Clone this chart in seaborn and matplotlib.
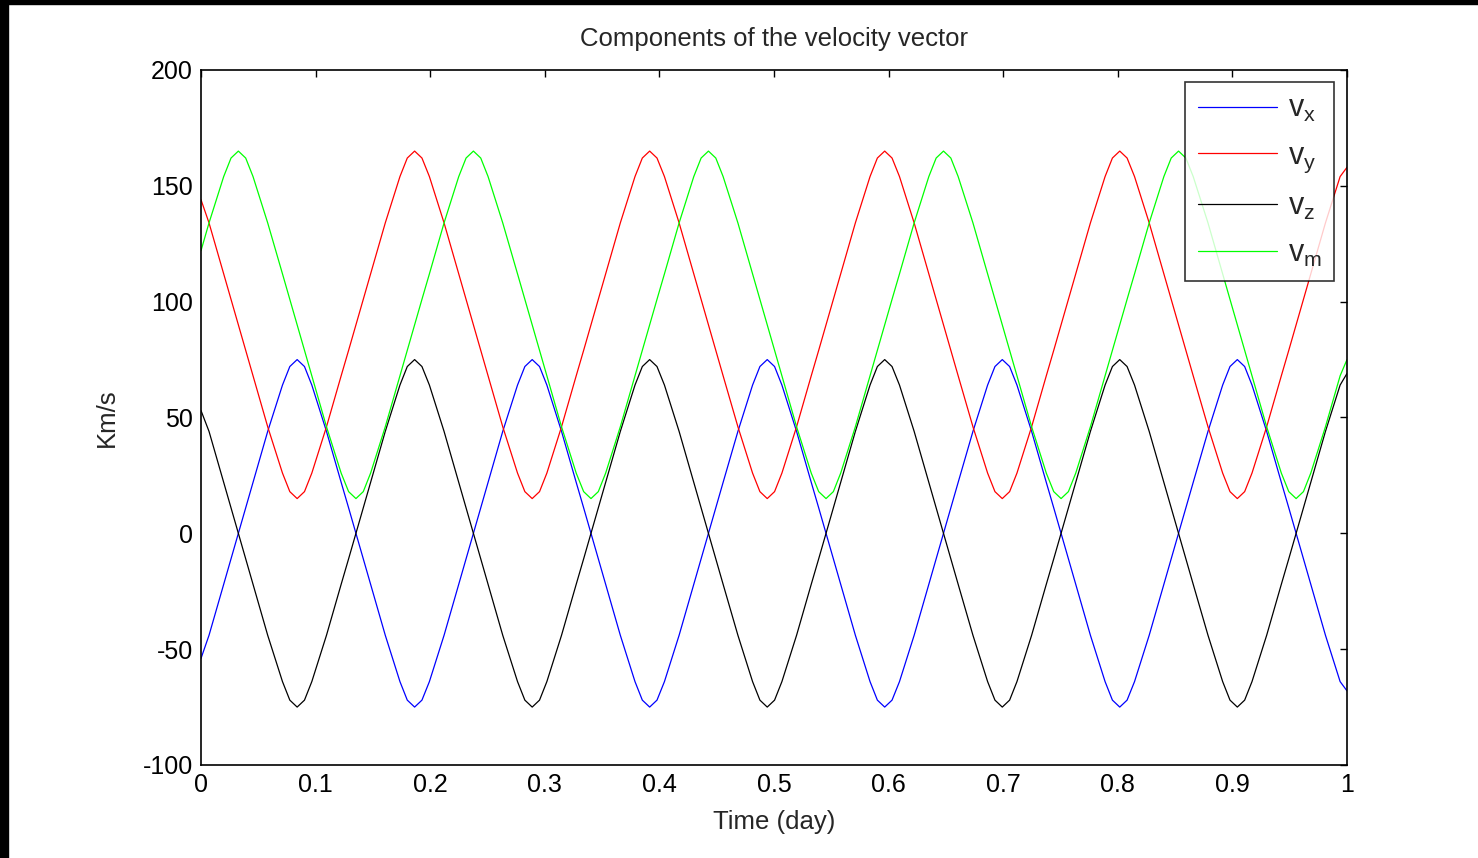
import matplotlib
matplotlib.use("Agg")
import matplotlib.pyplot as plt
import seaborn as sns
from matplotlib.patches import Rectangle

# time samples (day); extra samples near each turning point
t_day = [0.0, 0.0070, 0.0198,
         0.0262, 0.0326, 0.0390, 0.0454, 0.0582, 0.0711, 0.0775, 0.0839,
         0.0903, 0.0967, 0.1095, 0.1223, 0.1288, 0.1352, 0.1416, 0.1480,
         0.1608, 0.1736, 0.1800, 0.1864, 0.1928, 0.1993, 0.2121, 0.2249,
         0.2313, 0.2377, 0.2441, 0.2505, 0.2633, 0.2762, 0.2826, 0.2890,
         0.2954, 0.3018, 0.3146, 0.3274, 0.3339, 0.3403, 0.3467, 0.3531,
         0.3659, 0.3787, 0.3851, 0.3915, 0.3979, 0.4044, 0.4172, 0.4300,
         0.4364, 0.4428, 0.4492, 0.4556, 0.4685, 0.4813, 0.4877, 0.4941,
         0.5005, 0.5069, 0.5197, 0.5325, 0.5390, 0.5454, 0.5518, 0.5582,
         0.5710, 0.5838, 0.5902, 0.5966, 0.6030, 0.6095, 0.6223, 0.6351,
         0.6415, 0.6479, 0.6543, 0.6607, 0.6736, 0.6864, 0.6928, 0.6992,
         0.7056, 0.7120, 0.7248, 0.7376, 0.7441, 0.7505, 0.7569, 0.7633,
         0.7761, 0.7889, 0.7953, 0.8017, 0.8081, 0.8146, 0.8274, 0.8402,
         0.8466, 0.8530, 0.8594, 0.8658, 0.8787, 0.8915, 0.8979, 0.9043,
         0.9107, 0.9171, 0.9299, 0.9427, 0.9492, 0.9556, 0.9620, 0.9684,
         0.9812, 0.9940, 1.0]

# velocity components (km/s)
v_x = [-54, -44, -22,
       -11, 0, 11, 22, 44, 64, 72, 75, 72, 64, 44, 22,
       11, 0, -11, -22, -44, -64, -72, -75, -72, -64, -44, -22,
       -11, 0, 11, 22, 44, 64, 72, 75, 72, 64, 44, 22,
       11, 0, -11, -22, -44, -64, -72, -75, -72, -64, -44, -22,
       -11, 0, 11, 22, 44, 64, 72, 75, 72, 64, 44, 22,
       11, 0, -11, -22, -44, -64, -72, -75, -72, -64, -44, -22,
       -11, 0, 11, 22, 44, 64, 72, 75, 72, 64, 44, 22,
       11, 0, -11, -22, -44, -64, -72, -75, -72, -64, -44, -22,
       -11, 0, 11, 22, 44, 64, 72, 75, 72, 64, 44, 22,
       11, 0, -11, -22, -44, -64,
       -68]
v_y = [144, 134, 112,
       101, 90, 79, 68, 46, 26, 18, 15, 18, 26, 46, 68,
       79, 90, 101, 112, 134, 154, 162, 165, 162, 154, 134, 112,
       101, 90, 79, 68, 46, 26, 18, 15, 18, 26, 46, 68,
       79, 90, 101, 112, 134, 154, 162, 165, 162, 154, 134, 112,
       101, 90, 79, 68, 46, 26, 18, 15, 18, 26, 46, 68,
       79, 90, 101, 112, 134, 154, 162, 165, 162, 154, 134, 112,
       101, 90, 79, 68, 46, 26, 18, 15, 18, 26, 46, 68,
       79, 90, 101, 112, 134, 154, 162, 165, 162, 154, 134, 112,
       101, 90, 79, 68, 46, 26, 18, 15, 18, 26, 46, 68,
       79, 90, 101, 112, 134, 154,
       158]
v_z = [53, 44, 22,
       11, 0, -11, -22, -44, -64, -72, -75, -72, -64, -44, -22,
       -11, 0, 11, 22, 44, 64, 72, 75, 72, 64, 44, 22,
       11, 0, -11, -22, -44, -64, -72, -75, -72, -64, -44, -22,
       -11, 0, 11, 22, 44, 64, 72, 75, 72, 64, 44, 22,
       11, 0, -11, -22, -44, -64, -72, -75, -72, -64, -44, -22,
       -11, 0, 11, 22, 44, 64, 72, 75, 72, 64, 44, 22,
       11, 0, -11, -22, -44, -64, -72, -75, -72, -64, -44, -22,
       -11, 0, 11, 22, 44, 64, 72, 75, 72, 64, 44, 22,
       11, 0, -11, -22, -44, -64, -72, -75, -72, -64, -44, -22,
       -11, 0, 11, 22, 44, 64,
       69]
v_m = [122, 134, 154,
       162, 165, 162, 154, 134, 112, 101, 90, 79, 68, 46, 26,
       18, 15, 18, 26, 46, 68, 79, 90, 101, 112, 134, 154,
       162, 165, 162, 154, 134, 112, 101, 90, 79, 68, 46, 26,
       18, 15, 18, 26, 46, 68, 79, 90, 101, 112, 134, 154,
       162, 165, 162, 154, 134, 112, 101, 90, 79, 68, 46, 26,
       18, 15, 18, 26, 46, 68, 79, 90, 101, 112, 134, 154,
       162, 165, 162, 154, 134, 112, 101, 90, 79, 68, 46, 26,
       18, 15, 18, 26, 46, 68, 79, 90, 101, 112, 134, 154,
       162, 165, 162, 154, 134, 112, 101, 90, 79, 68, 46, 26,
       18, 15, 18, 26, 46, 68,
       75]

series_labels = ['v$_x$', 'v$_y$', 'v$_z$', 'v$_m$']
series_colors = ['#0000ff', '#ff0000', '#000000', '#00ff00']
x_ticks = [0, 0.1, 0.2, 0.3, 0.4, 0.5, 0.6, 0.7, 0.8, 0.9, 1]
x_ticklabels = ['0', '0.1', '0.2', '0.3', '0.4', '0.5', '0.6', '0.7', '0.8', '0.9', '1']
y_ticks = [-100, -50, 0, 50, 100, 150, 200]

sns.set_style('white')
plt.rcParams['font.family'] = ['Liberation Sans', 'DejaVu Sans']
plt.rcParams['mathtext.fontset'] = 'custom'
plt.rcParams['mathtext.rm'] = 'Liberation Sans'
plt.rcParams['mathtext.it'] = 'Liberation Sans'
plt.rcParams['axes.unicode_minus'] = False

fig = plt.figure(figsize=(14.78, 8.58), dpi=100)
ax = fig.add_axes([201 / 1478, 1 - 765 / 858, 1146 / 1478, 695 / 858])

for vals, lab, col in zip([v_x, v_y, v_z, v_m], series_labels, series_colors):
    sns.lineplot(x=t_day, y=vals, color=col, label=lab, linewidth=0.9,
                 estimator=None, ax=ax)

ax.set_xlim(0, 1)
ax.set_ylim(-100, 200)
ax.set_xticks(x_ticks)
ax.set_xticklabels(x_ticklabels)
ax.set_yticks(y_ticks)
ax.tick_params(direction='in', length=5, width=1, top=True, right=True,
               labelsize=18, pad=6, colors='black')
for sp in ax.spines.values():
    sp.set_color('black')
    sp.set_linewidth(1.2)

ax.set_title('Components of the velocity vector', fontsize=18.5, pad=17)
ax.set_xlabel('Time (day)', fontsize=18.5, labelpad=9)
ax.set_ylabel('Km/s', fontsize=18.5, labelpad=17)

leg = ax.legend(loc='upper right', bbox_to_anchor=(1334 / 1478, 1 - 82 / 858),
                bbox_transform=fig.transFigure, borderaxespad=0, fontsize=22,
                frameon=True, fancybox=False, edgecolor='black',
                handlelength=2.6, labelspacing=0.55, borderpad=0.4,
                handletextpad=0.35)
leg.get_frame().set_linewidth(1.2)
for ln in leg.get_lines():
    ln.set_linewidth(0.9)

# dark frame strips on the top and left edges of the original screenshot
fig.add_artist(Rectangle((0, 0), 8 / 1478, 1, transform=fig.transFigure,
                         color='black', zorder=10))
fig.add_artist(Rectangle((0, 1 - 4 / 858), 1, 4 / 858, transform=fig.transFigure,
                         color='black', zorder=10))

fig.savefig('out.png', dpi=100)
